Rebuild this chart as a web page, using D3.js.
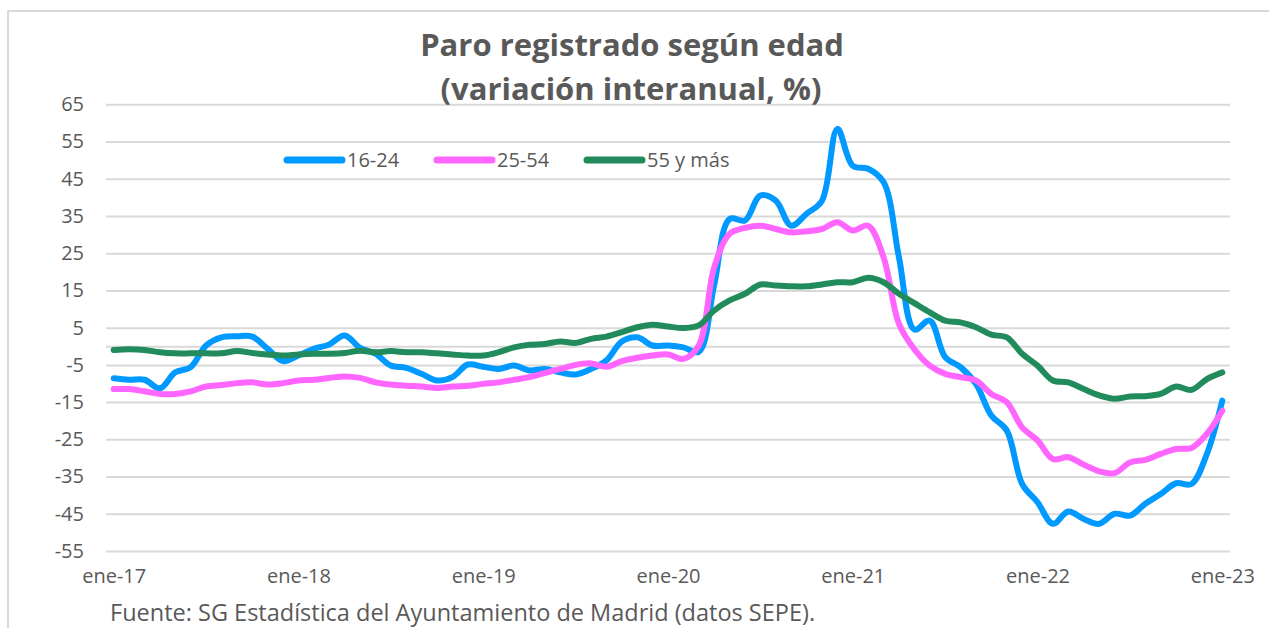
<!DOCTYPE html>
<html>
<head>
<meta charset="utf-8">
<script src="https://cdn.jsdelivr.net/npm/d3@7"></script>
<style>
  body { margin: 0; background: #fff; }
  text { font-family: "Open Sans", sans-serif; fill: #595959; }
</style>
</head>
<body>
<div id="chart-area"></div>
<script>
// monthly categories, ene-17 .. ene-23
var monthNames = ["ene", "feb", "mar", "abr", "may", "jun", "jul", "ago", "sep", "oct", "nov", "dic"]
var years = ["17", "18", "19", "20", "21", "22", "23"]
var xTickLabels = ["ene-17", "ene-18", "ene-19", "ene-20", "ene-21", "ene-22", "ene-23"]
var yTicks = [65, 55, 45, 35, 25, 15, 5, -5, -15, -25, -35, -45, -55]

var series16_24 = [-8.6, -9.0, -9.0, -11.3, -7.0, -5.6, 0.2, 2.4, 2.7, 2.6, -0.7, -4.0,
  -2.5, -0.7, 0.5, 2.9, -0.4, -2.0, -5.2, -5.8, -7.4, -9.2, -8.3, -4.9,
  -5.5, -6.1, -5.2, -6.5, -6.1, -7.0, -7.6, -6.1, -3.8, 1.3, 2.4, 0.2,
  0.2, -0.3, -1.5, 16.5, 34.2, 33.8, 40.5, 39.1, 32.4, 35.6, 39.1, 58.4,
  48.5, 47.7, 44.1, 23.9, 4.5, 6.9, -2.9, -5.6, -10.1, -18.6, -22.6, -37.0,
  -41.9, -47.7, -44.4, -46.4, -47.7, -45.0, -45.5, -42.3, -39.7, -36.8, -37.0, -28.9,
  -14.6]
var series25_54 = [-11.5, -11.5, -12.1, -12.8, -12.8, -12.1, -10.8, -10.4, -9.9, -9.7, -10.3, -9.9,
  -9.2, -9.0, -8.5, -8.1, -8.5, -9.7, -10.3, -10.6, -10.8, -11.2, -10.8, -10.6,
  -10.1, -9.7, -9.0, -8.3, -7.2, -6.1, -5.0, -4.6, -5.5, -4.0, -3.1, -2.5,
  -2.2, -3.4, 0.2, 21.2, 30.2, 31.8, 32.4, 31.5, 30.6, 30.9, 31.5, 33.3,
  31.1, 32.4, 23.9, 6.0, -0.8, -5.2, -7.4, -8.3, -9.2, -12.8, -15.0, -21.8,
  -25.3, -30.3, -29.8, -31.8, -33.6, -34.1, -31.2, -30.5, -28.9, -27.6, -27.3, -23.5,
  -17.3]
var series55 = [-1.0, -0.8, -1.0, -1.6, -1.9, -1.9, -1.9, -1.9, -1.3, -1.8, -2.2, -2.5,
  -2.2, -2.0, -2.0, -1.8, -1.2, -1.6, -1.3, -1.6, -1.6, -1.9, -2.2, -2.5,
  -2.5, -1.6, -0.3, 0.4, 0.6, 1.3, 0.9, 2.0, 2.6, 3.8, 5.1, 5.8,
  5.3, 4.9, 5.6, 9.6, 12.3, 14.1, 16.6, 16.3, 16.1, 16.1, 16.6, 17.2,
  17.2, 18.4, 17.2, 14.1, 11.6, 9.1, 6.9, 6.4, 5.1, 3.1, 2.4, -2.0,
  -5.2, -9.2, -9.7, -11.5, -13.2, -14.1, -13.5, -13.4, -12.8, -10.8, -11.7, -8.8,
  -7.0]

var seriesNames = ["16-24", "25-54", "55 y más"]
var seriesColors = ["#0099ff", "#ff66ff", "#218b5b"]

var months = []
years.forEach(yr => monthNames.forEach(m => months.push(m + "-" + yr)))
months = months.slice(0, series16_24.length)

var width = 1269
var height = 628

var svg = d3.select("#chart-area").append("svg")
.attr("width", width)
.attr("height", height)

// chart border
svg.append("rect")
.attr("x", 8)
.attr("y", 11)
.attr("width", 1400)
.attr("height", 800)
.attr("fill", "none")
.attr("stroke", "#d9d9d9")
.attr("stroke-width", 2)

var x = d3.scalePoint()
.domain(months)
.range([106, 1230])
.padding(0.5)

var y = d3.scaleLinear()
.domain([-55, 65])
.range([551, 104.3])

// gridlines + zero line
var yAxisCall = d3.axisLeft(y).tickValues(yTicks.concat([0]))
.tickSize(-(1230 - 106))
.tickFormat(d => yTicks.includes(d) ? d : "")

var yAxisGroup = svg.append("g")
.attr("transform", "translate(106, 0)")
.call(yAxisCall)

yAxisGroup.select(".domain").remove()
yAxisGroup.selectAll("line")
.attr("stroke", "#d9d9d9")
.attr("stroke-width", 2)
yAxisGroup.selectAll("text")
.attr("x", -22)
.attr("font-size", "20px")
.style("font-family", "'Open Sans', sans-serif")
.style("fill", "#595959")

var xAxisCall = d3.axisBottom(x)
.tickValues(xTickLabels)
.tickSize(0)

var xAxisGroup = svg.append("g")
.attr("transform", "translate(0, 565)")
.call(xAxisCall)

xAxisGroup.select(".domain").remove()
xAxisGroup.selectAll("text")
.attr("dy", "0.75em")
.attr("font-size", "20px")
.style("font-family", "'Open Sans', sans-serif")
.style("fill", "#595959")

// lines
var line = d3.line()
.x((d, i) => x(months[i]))
.y(d => y(d))
.curve(d3.curveCatmullRom.alpha(0.5))

var allSeries = [series16_24, series25_54, series55]

allSeries.forEach((s, i) => {
	svg.append("path")
	.datum(s)
	.attr("d", line)
	.attr("fill", "none")
	.attr("stroke", seriesColors[i])
	.attr("stroke-width", 6)
	.attr("stroke-linejoin", "round")
	.attr("stroke-linecap", "round")
})

// legend
var legendX = [287, 437, 587]
seriesNames.forEach((name, i) => {
	var row = svg.append("g")
	.attr("transform", "translate(" + legendX[i] + ", 160)")

	row.append("line")
	.attr("x1", 0)
	.attr("x2", 55)
	.attr("stroke", seriesColors[i])
	.attr("stroke-width", 7)
	.attr("stroke-linecap", "round")

	row.append("text")
	.attr("x", 60)
	.attr("y", 7)
	.attr("font-size", "20px")
	.text(name)
})

// title
svg.append("text")
.attr("x", 632)
.attr("y", 56)
.attr("text-anchor", "middle")
.attr("font-size", "31px")
.attr("font-weight", "bold")
.text("Paro registrado según edad")

svg.append("text")
.attr("x", 631)
.attr("y", 100)
.attr("text-anchor", "middle")
.attr("font-size", "31px")
.attr("font-weight", "bold")
.text("(variación interanual, %)")

// source
svg.append("text")
.attr("x", 110)
.attr("y", 621)
.attr("font-size", "23.5px")
.text("Fuente: SG Estadística del Ayuntamiento de Madrid (datos SEPE).")
</script>
</body>
</html>
